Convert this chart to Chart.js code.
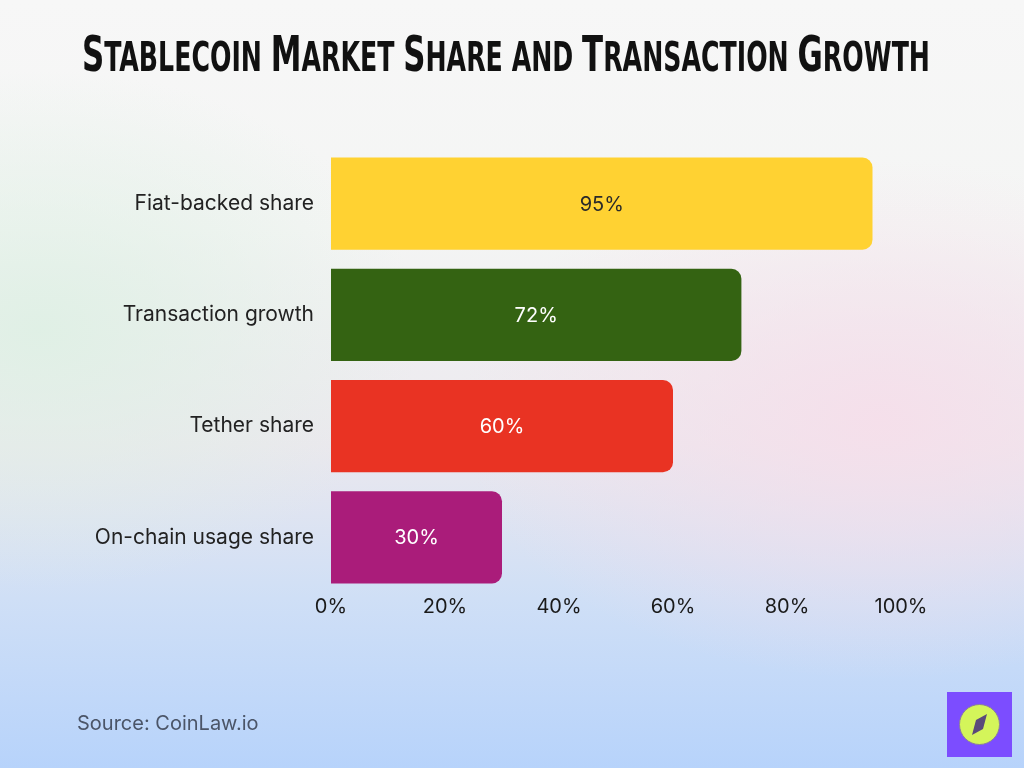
<!DOCTYPE html>
<html>
<head>
<meta charset="utf-8">
<script src="https://cdn.jsdelivr.net/npm/chart.js@4"></script>
<style>
  html, body { margin: 0; padding: 0; }
  body {
    width: 1024px; height: 768px; overflow: hidden; position: relative;
    background:
      radial-gradient(ellipse 420px 260px at 880px 420px, rgba(246, 222, 234, 0.9), rgba(246, 222, 234, 0)),
      radial-gradient(ellipse 380px 260px at 40px 330px, rgba(222, 240, 228, 0.9), rgba(222, 240, 228, 0)),
      linear-gradient(to bottom, #f7f7f7 0%, #f4f5f4 30%, #ebe8ee 58%, #cfdff6 78%, #b7d3fb 100%);
    font-family: Inter, "Open Sans", sans-serif;
  }
  #title {
    position: absolute; left: 82px; top: 29px;
    margin: 0; white-space: nowrap; line-height: 1;
    font-family: "DejaVu Sans Condensed", "Liberation Sans Narrow", sans-serif;
    font-weight: bold; color: #111;
    transform-origin: left top;
  }
  #title .big { font-size: 44px; }
  #title .small { font-size: 36px; }
  #chart-wrap { position: absolute; left: 0; top: 0; width: 1024px; height: 768px; }
  #source { position: absolute; left: 77px; top: 711px; font-size: 20px; color: #4b5568; }
  #logo {
    position: absolute; left: 947px; top: 692px; width: 65px; height: 65px; background: #7c4dff;
  }
</style>
</head>
<body>
<div id="chart-wrap"><canvas id="stable-chart"></canvas></div>
<div id="title"></div>
<div id="source">Source: CoinLaw.io</div>
<div id="logo">
  <svg width="65" height="65" viewBox="0 0 65 65">
    <circle cx="32.5" cy="32.5" r="20" fill="#d4f55a" stroke="#8a7f9a" stroke-width="1"/>
    <path d="M40 22 L36 37 L25 43 L29 28 Z" fill="#5a4a7a"/>
  </svg>
</div>
<script>
const titleText = "Stablecoin Market Share and Transaction Growth";
const categories = ["Fiat-backed share", "Transaction growth", "Tether share", "On-chain usage share"];
const values = [95, 72, 60, 30];
const barColors = ["#ffd232", "#346312", "#e93323", "#aa1c7a"];
const labelColors = ["#2a2a2a", "#ffffff", "#ffffff", "#ffffff"];
const xTicks = [0, 20, 40, 60, 80, 100];

// small caps title: capital letters bigger, rest uppercase smaller
const t = document.getElementById("title");
t.innerHTML = titleText.split(' ').map(word =>
    word.split('').map(ch =>
        `<span class="${ch === ch.toUpperCase() ? 'big' : 'small'}">${ch.toUpperCase()}</span>`
    ).join('')
).join('<span class="small"> </span>');
const w = t.getBoundingClientRect().width;
t.style.transform = `scale(${848 / w}, 1.14)`;

// draws the value in the middle of each bar
const barLabels = {
    id: 'barLabels',
    afterDatasetsDraw(chart) {
        const ctx = chart.ctx;
        const meta = chart.getDatasetMeta(0);
        ctx.save();
        ctx.font = '20px Inter, "Open Sans", sans-serif';
        ctx.textAlign = 'center';
        ctx.textBaseline = 'middle';
        meta.data.forEach((bar, i) => {
            const p = bar.getCenterPoint();
            ctx.fillStyle = labelColors[i];
            ctx.fillText(values[i] + '%', p.x, p.y + 1);
        });
        ctx.restore();
    }
};

const ctx = document.getElementById("stable-chart").getContext('2d');
new Chart(ctx, {
    type: 'bar',
    data: {
        labels: categories,
        datasets: [{
            data: values,
            backgroundColor: barColors,
            borderRadius: 10,
            borderSkipped: 'start',
            barPercentage: 0.83,
            categoryPercentage: 1,
        }]
    },
    plugins: [barLabels],
    options: {
        indexAxis: 'y',
        responsive: true,
        maintainAspectRatio: false,
        animation: false,
        layout: {
            padding: { top: 148, right: 123, bottom: 135, left: 0 }
        },
        plugins: {
            legend: { display: false },
            tooltip: { enabled: false },
        },
        scales: {
            x: {
                min: 0,
                max: 100,
                afterBuildTicks: (axis) => {
                    axis.ticks = xTicks.map(v => ({ value: v }));
                },
                afterFit: (axis) => { axis.height = 40; },
                ticks: {
                    color: '#1a1a1a',
                    padding: 2,
                    font: { size: 20, family: 'Inter' },
                    callback: (v) => v + '%',
                },
                grid: { display: false, drawTicks: false },
                border: { display: false },
            },
            y: {
                afterFit: (axis) => { axis.width = 331; },
                ticks: {
                    color: '#222',
                    padding: 17,
                    font: { size: 21, family: 'Inter' },
                },
                grid: { display: false, drawTicks: false },
                border: { display: false },
            }
        }
    }
});
</script>
</body>
</html>
